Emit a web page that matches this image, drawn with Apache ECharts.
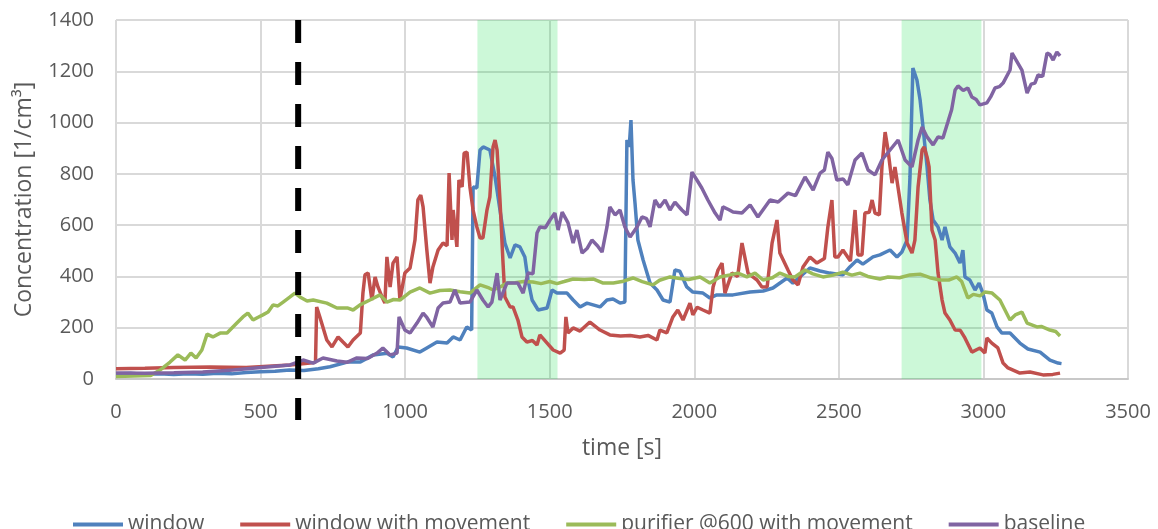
<!DOCTYPE html>
<html>
<head>
<meta charset="utf-8">
<script src="https://cdn.jsdelivr.net/npm/echarts@6/dist/echarts.min.js"></script>
<style>
  html, body { margin: 0; padding: 0; background: #fff; }
  #chart { width: 1158px; height: 529px; }
</style>
</head>
<body>
<div id="chart"></div>
<script>
// time [s], concentration [1/cm3]
const windowData = [
  [0,20],[50,22],[100,18],[150,20],[200,18],[250,20],[300,19],[350,22],[400,20],[450,25],[500,28],[550,30],[600,35],[650,33],[700,40],[740,48],
  [800,66],[845,66],[890,94],[937,100],[958,86],[976,125],[1005,121],[1051,105],[1075,121],[1110,144],[1145,140],[1166,164],[1190,152],[1213,203],[1230,191],
  [1235,749],[1248,745],[1259,893],[1270,905],[1293,893],[1311,788],[1328,659],[1345,530],[1363,472],[1380,523],[1397,515],[1414,476],[1425,386],[1439,308],
  [1460,269],[1491,277],[1508,347],[1525,335],[1560,335],[1581,308],[1605,281],[1629,296],[1650,289],[1674,281],[1698,308],[1719,312],[1743,296],[1760,300],
  [1767,932],[1775,905],[1781,1010],[1788,776],[1795,686],[1805,542],[1823,464],[1847,374],[1871,347],[1892,308],[1916,300],[1933,425],[1950,420],[1974,359],
  [1995,339],[2030,335],[2054,316],[2078,328],[2099,328],[2134,328],[2193,339],[2238,343],[2272,355],[2321,394],[2341,374],[2400,433],[2435,421],[2469,413],
  [2514,406],[2538,437],[2563,464],[2583,448],[2618,476],[2642,484],[2677,503],[2701,476],[2718,495],[2736,542],[2746,788],[2756,1213],[2770,1166],[2781,1088],
  [2791,983],[2805,827],[2815,698],[2826,620],[2843,593],[2857,542],[2867,593],[2884,515],[2902,491],[2919,452],[2929,503],[2936,398],[2953,386],[2971,347],
  [2985,374],[2998,335],[3012,269],[3029,257],[3047,203],[3064,179],[3092,179],[3126,140],[3154,117],[3196,105],[3230,74],[3258,62],[3270,60]
]
const windowMoveData = [
  [0,40],[100,42],[200,45],[325,47],[450,45],[602,55],[671,62],[690,66],[694,281],[705,242],[729,152],[747,125],[768,164],[785,144],[802,125],[820,152],
  [845,179],[854,335],[861,406],[872,413],[885,308],[896,398],[906,359],[920,320],[930,296],[937,476],[948,359],[958,452],[972,476],[982,308],[999,413],
  [1017,433],[1034,542],[1044,698],[1054,717],[1062,671],[1075,503],[1086,374],[1096,437],[1114,503],[1131,530],[1145,520],[1152,803],[1162,542],[1166,659],
  [1179,515],[1186,776],[1197,749],[1204,881],[1214,885],[1224,749],[1235,659],[1248,593],[1259,550],[1269,550],[1283,659],[1293,710],[1304,905],[1311,932],
  [1318,893],[1328,698],[1338,464],[1345,320],[1363,281],[1373,281],[1390,230],[1404,164],[1421,144],[1440,150],[1456,133],[1466,172],[1491,140],[1512,113],
  [1536,101],[1550,113],[1556,242],[1563,179],[1581,199],[1605,187],[1639,222],[1674,191],[1708,172],[1745,168],[1778,170],[1812,164],[1840,170],[1871,152],
  [1881,191],[1905,180],[1926,242],[1943,269],[1961,230],[1985,296],[1995,250],[2010,280],[2030,269],[2054,257],[2065,359],[2082,425],[2096,452],[2106,335],
  [2130,413],[2150,400],[2165,530],[2186,413],[2200,400],[2217,386],[2234,359],[2252,360],[2269,530],[2286,620],[2296,491],[2324,425],[2341,386],[2359,367],
  [2376,437],[2400,476],[2424,452],[2450,470],[2462,593],[2476,698],[2486,476],[2497,476],[2514,503],[2540,460],[2556,659],[2566,484],[2580,484],[2590,647],
  [2605,650],[2615,698],[2625,647],[2640,640],[2649,827],[2660,963],[2670,893],[2684,764],[2694,827],[2705,745],[2718,647],[2736,530],[2753,491],[2763,542],
  [2774,749],[2788,893],[2795,905],[2805,866],[2812,827],[2822,581],[2833,542],[2843,413],[2857,308],[2867,257],[2884,230],[2902,191],[2920,190],[2936,160],
  [2960,105],[2988,121],[3005,101],[3012,160],[3029,140],[3050,121],[3068,62],[3085,43],[3126,23],[3161,27],[3206,16],[3240,18],[3265,23]
]
const purifierData = [
  [0,10],[60,12],[120,14],[152,35],[187,66],[214,94],[239,74],[259,101],[277,82],[297,113],[315,175],[335,164],[360,179],[384,179],[418,218],[439,242],
  [456,257],[474,230],[490,240],[508,250],[526,261],[543,289],[560,285],[578,300],[602,320],[619,335],[636,320],[661,304],[682,308],[729,296],[764,277],
  [800,277],[820,269],[844,289],[878,308],[913,328],[937,300],[960,310],[982,308],[1017,339],[1051,355],[1086,335],[1120,345],[1155,347],[1190,340],
  [1224,335],[1259,367],[1290,355],[1304,347],[1330,360],[1352,374],[1380,375],[1410,380],[1442,378],[1470,372],[1500,380],[1525,372],[1550,380],[1581,390],
  [1620,388],[1650,390],[1685,374],[1720,374],[1750,380],[1788,394],[1820,380],[1857,367],[1880,385],[1916,398],[1950,392],[1980,388],[2020,398],[2054,374],
  [2089,398],[2123,406],[2151,413],[2182,398],[2210,413],[2238,386],[2270,395],[2296,413],[2324,400],[2348,398],[2383,425],[2410,410],[2445,398],[2480,405],
  [2514,417],[2545,405],[2573,413],[2600,400],[2642,390],[2670,398],[2710,395],[2746,406],[2781,409],[2815,395],[2850,386],[2880,386],[2908,398],[2925,380],
  [2946,316],[2965,330],[2988,324],[3005,339],[3030,335],[3057,308],[3092,230],[3110,250],[3133,261],[3151,218],[3185,203],[3200,205],[3230,191],[3250,185],[3265,168]
]
const baselineData = [
  [0,23],[100,22],[200,24],[300,27],[405,35],[521,47],[602,55],[647,74],[682,62],[716,82],[764,70],[799,65],[833,82],[870,80],[903,101],[923,121],[948,94],
  [972,101],[979,242],[999,191],[1017,179],[1041,218],[1062,257],[1075,240],[1096,203],[1114,277],[1131,296],[1155,300],[1172,347],[1190,296],[1224,300],
  [1248,347],[1269,308],[1287,281],[1300,300],[1318,413],[1328,308],[1352,374],[1390,374],[1408,335],[1425,413],[1442,410],[1456,569],[1466,593],[1485,590],
  [1501,620],[1518,647],[1529,581],[1543,651],[1563,610],[1581,530],[1594,581],[1612,491],[1630,510],[1646,542],[1665,520],[1681,495],[1698,593],[1708,671],
  [1726,640],[1743,659],[1760,593],[1778,554],[1802,593],[1819,632],[1835,625],[1847,593],[1864,698],[1880,670],[1899,698],[1916,659],[1933,690],[1957,659],
  [1975,640],[1992,807],[2009,776],[2026,745],[2047,698],[2072,647],[2089,620],[2099,671],[2120,660],[2134,651],[2165,647],[2193,679],[2220,632],[2262,698],
  [2290,690],[2324,725],[2350,715],[2383,788],[2411,737],[2435,803],[2450,815],[2462,885],[2476,860],[2493,776],[2515,780],[2531,757],[2556,854],[2580,881],
  [2601,815],[2625,796],[2649,854],[2677,893],[2705,932],[2729,854],[2753,827],[2774,932],[2788,983],[2805,944],[2826,913],[2843,944],[2860,940],[2877,1002],
  [2890,1050],[2902,1127],[2912,1143],[2930,1125],[2946,1135],[2960,1100],[2975,1090],[2988,1069],[3012,1077],[3025,1100],[3040,1135],[3055,1140],[3068,1154],
  [3092,1205],[3099,1271],[3115,1240],[3133,1205],[3151,1115],[3165,1150],[3178,1154],[3189,1186],[3205,1180],[3220,1271],[3230,1265],[3241,1244],[3254,1275],[3265,1260]
]
const seriesNames = ['window', 'window with movement', 'purifier @600 with movement', 'baseline']
const seriesColors = ['#4F81BD', '#C0504D', '#9BBB59', '#8064A2']
const highlightRanges = [[1250, 1527], [2717, 2993]]
const markerTime = 630

const chart = echarts.init(document.getElementById('chart'))
const font = 'Open Sans'
const textColor = '#595959'

const lineSeries = [windowData, windowMoveData, purifierData, baselineData].map((d, i) => ({
  name: seriesNames[i],
  type: 'line',
  data: d,
  showSymbol: false,
  symbol: 'none',
  color: seriesColors[i],
  lineStyle: { width: 3.5, color: seriesColors[i] }
}))

chart.setOption({
  animation: false,
  textStyle: { fontFamily: font },
  grid: { left: 116, right: 30, top: 20, bottom: 150 },
  legend: {
    data: seriesNames,
    left: 68,
    top: 509,
    icon: 'rect',
    itemWidth: 50,
    itemHeight: 4,
    itemGap: 36,
    textStyle: { fontFamily: font, fontSize: 21, color: textColor }
  },
  xAxis: {
    type: 'value',
    min: 0,
    max: 3500,
    interval: 500,
    name: 'time [s]',
    nameLocation: 'middle',
    nameGap: 58,
    nameTextStyle: { fontFamily: font, fontSize: 23, color: textColor },
    axisLine: { show: true, lineStyle: { color: '#C8C8C8', width: 2 } },
    axisTick: { show: false },
    axisLabel: { margin: 23, fontSize: 20, color: textColor, fontFamily: font, formatter: v => String(v) },
    splitLine: { show: true, lineStyle: { color: '#D9D9D9', width: 2 } }
  },
  yAxis: {
    type: 'value',
    min: 0,
    max: 1400,
    interval: 200,
    name: 'Concentration [1/cm³]',
    nameLocation: 'middle',
    nameGap: 80,
    nameTextStyle: { fontFamily: font, fontSize: 23, color: textColor },
    axisLine: { show: false },
    axisTick: { show: false },
    axisLabel: { margin: 22, fontSize: 20, color: textColor, fontFamily: font, formatter: v => String(v) },
    splitLine: { show: true, lineStyle: { color: '#D9D9D9', width: 2 } }
  },
  series: lineSeries.concat([
    {
      name: 'bands',
      type: 'line',
      data: [],
      z: 10,
      clip: false,
      markArea: {
        silent: true,
        itemStyle: { color: 'rgba(0,220,60,0.2)' },
        data: highlightRanges.map(r => [{ xAxis: r[0], yAxis: -35 }, { xAxis: r[1], yAxis: 1400 }])
      }
    },
    {
      name: 'marker',
      type: 'custom',
      data: [[markerTime]],
      z: 11,
      silent: true,
      clip: false,
      renderItem: (params, api) => {
        const t = api.value(0)
        const top = api.coord([t, 1400])
        const bottom = api.coord([t, -160])
        return {
          type: 'line',
          shape: { x1: top[0], y1: top[1], x2: bottom[0], y2: bottom[1] },
          style: { stroke: '#000', lineWidth: 6, lineDash: [23, 19] }
        }
      }
    }
  ])
})
</script>
</body>
</html>
